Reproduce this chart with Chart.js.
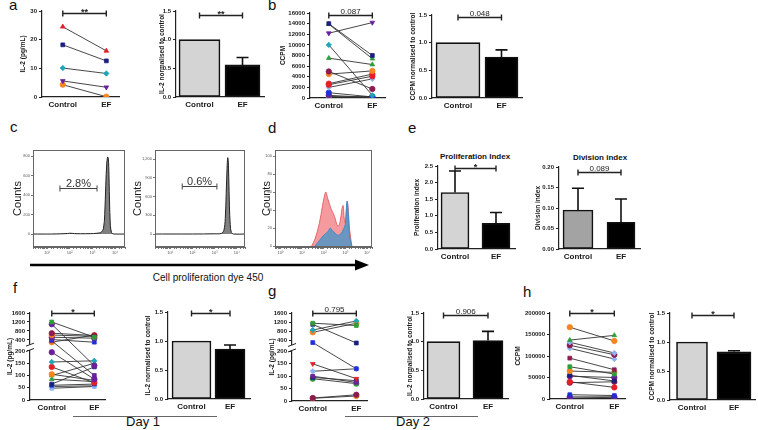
<!DOCTYPE html>
<html>
<head>
<meta charset="utf-8">
<title>IL-2 / CCPM control vs EF</title>
<script src="https://cdn.jsdelivr.net/npm/chart.js@4.4.1/dist/chart.umd.min.js"></script>
<style>
  html, body { margin: 0; padding: 0; background: #fff; }
  body { position: relative; width: 758px; height: 430px; overflow: hidden; font-family: "Liberation Sans", Arial, sans-serif; color: #111; }
  canvas { position: absolute; }
  .t { position: absolute; white-space: nowrap; line-height: 1; }
  .lbl { font-size: 15px; }
  .c { transform: translateX(-50%); }
</style>
</head>
<body>
<svg style="position:absolute;left:0;top:0" width="758" height="430">
  <line x1="30" y1="265" x2="358" y2="265" stroke="#000" stroke-width="2.6"/>
  <polygon points="369,265 355,259.5 355,270.5" fill="#000"/>
  <line x1="73" y1="416.5" x2="217" y2="416.5" stroke="#666" stroke-width="1"/>
  <line x1="345" y1="416.5" x2="478" y2="416.5" stroke="#666" stroke-width="1"/>
</svg>

<div class="t lbl" style="left:9px;top:-3px">a</div>
<div class="t lbl" style="left:268px;top:-3px">b</div>
<div class="t lbl" style="left:10px;top:119px">c</div>
<div class="t lbl" style="left:268px;top:120px">d</div>
<div class="t lbl" style="left:408px;top:120px">e</div>
<div class="t lbl" style="left:13px;top:280px">f</div>
<div class="t lbl" style="left:268px;top:283px">g</div>
<div class="t lbl" style="left:523px;top:284px">h</div>
<div class="t c" style="left:475px;top:153px;font-size:8px;font-weight:bold">Proliferation Index</div>
<div class="t c" style="left:600px;top:154px;font-size:8px;font-weight:bold">Division index</div>
<div class="t c" style="left:208px;top:273px;font-size:10px">Cell proliferation dye 450</div>
<div class="t c" style="left:143px;top:415px;font-size:13px">Day 1</div>
<div class="t c" style="left:413px;top:415px;font-size:13px">Day 2</div>

<script>
// ---- datos ----
const cats = ['Control', 'EF'];

// a: IL-2 (pg/mL) por donante
const aCtrl = [24.5, 18.2, 10.1, 5.6, 4.3];
const aEF   = [16.1, 12.6, 8.2, 3.4, 0.1];
const aTicks = [0, 10, 20, 30];
const aNorm = [1.0, 0.56];
const aNormErr = [1.0, 0.69];

// b: CCPM
const bCtrl = [14000, 13900, 12200, 10000, 7500, 5000, 4500, 2700, 2500, 2000, 1000, 500, 300, 150];
const bEF   = [8000, 7400, 14200, 500, 6300, 1700, 5100, 4500, 4100, 3600, 200, 100, 50, 300];
const bTicks = [0, 2000, 4000, 6000, 8000, 10000, 12000, 14000, 16000];
const bNorm = [1.0, 0.74];
const bNormErr = [1.0, 0.87];

const normTicks = [0, 0.5, 1.0, 1.5];

// c, d: histogramas (intensidad, cuentas)
const c1X = [2.4, 6, 16, 40, 80, 100, 130, 160, 300, 800, 1600, 2500, 3100, 3500, 3900, 4300, 4700, 5000, 5300, 5700, 6200, 7000, 8000, 10000, 27000];
const c1Y = [0, 0, 0, 2, 5, 8, 7, 4, 3, 4, 8, 20, 60, 200, 500, 720, 790, 780, 680, 350, 90, 15, 3, 0, 0];
const c1Ticks = [0, 200, 400, 600, 800];
const c2X = [2.1, 10, 100, 1000, 2000, 2600, 3000, 3300, 3600, 3850, 4050, 4300, 4600, 5000, 5600, 7000, 23000];
const c2Y = [0, 0, 0, 3, 10, 60, 250, 650, 1050, 1220, 1180, 900, 450, 150, 25, 0, 0];
const c2Ticks = [0, 300, 600, 900, 1200];
const dRedX  = [28, 40, 63, 89, 112, 126, 158, 224, 316, 447, 562, 708, 794, 891, 1000, 1120, 1260, 1580, 2000];
const dRedY  = [0, 8, 25, 45, 57, 60, 52, 41, 33, 22, 26, 42, 45, 30, 26, 40, 49, 18, 0];
const dBlueX = [40, 63, 100, 158, 200, 251, 316, 447, 631, 794, 1000, 1120, 1200, 1260, 1410, 1580, 2000];
const dBlueY = [0, 6, 12, 16, 20, 17, 15, 12, 14, 18, 24, 42, 50, 47, 30, 10, 0];
const dTicks = [0, 20, 40, 60, 80, 100];

// e: indices
const eProl = [1.7, 0.77];
const eProlErr = [2.35, 1.1];
const eProlTicks = [0, 0.5, 1.0, 1.5, 2.0, 2.5];
const eDiv = [0.095, 0.065];
const eDivErr = [0.148, 0.122];
const eDivTicks = [0, 0.05, 0.10, 0.15, 0.20];

// f: IL-2 dia 1
const fCtrl = [1200, 1100, 700, 620, 520, 420, 360, 300, 195, 155, 135, 105, 100, 85, 65, 60, 55, 48];
const fEF   = [520, 140, 600, 560, 480, 300, 100, 620, 85, 160, 70, 80, 150, 75, 135, 65, 58, 55];
const fNorm = [1.0, 0.86];
const fNormErr = [1.0, 0.93];

// g: IL-2 dia 2
const gCtrl = [1150, 1100, 850, 750, 300, 150, 120, 100, 95, 90, 12, 11];
const gEF   = [1050, 280, 1250, 1150, 130, 90, 130, 75, 82, 70, 25, 20];
const gNorm = [1.0, 1.02];
const gNormErr = [1.0, 1.18];

const brokenTicks = [0, 50, 100, 150, 200, 400, 800, 1200, 1600];

// h: CCPM
const hCtrl = [167000, 137000, 132000, 125000, 118000, 95000, 75000, 65000, 55000, 53000, 40000, 38000, 10000, 5000, 2000];
const hEF   = [135000, 148000, 107000, 103000, 93000, 68000, 58000, 62000, 42000, 50000, 27000, 40000, 8000, 5000, 4000];
const hTicks = [0, 50000, 100000, 150000, 200000];
const hNorm = [1.0, 0.83];
const hNormErr = [1.0, 0.85];

// ---- estilos de marcadores (color, forma, rotacion) ----
const MK = {
  rt: ['#e41f26', 'triangle', 0],  ri: ['#e41f26', 'triangle', 180], rc: ['#e41f26', 'circle', 0],
  nv: ['#1a1f80', 'rect', 0],      tl: ['#1fa5b8', 'rectRot', 0],    pu: ['#6b1f9c', 'triangle', 180],
  pc: ['#6b1f9c', 'circle', 0],    ps: ['#6b1f9c', 'rect', 0],       or: ['#f7841f', 'circle', 0],
  gr: ['#2e9e3a', 'triangle', 0],  gs: ['#2e9e3a', 'rect', 0],       gc: ['#2e9e3a', 'circle', 0],
  mr: ['#8c1c4f', 'circle', 0],    ms: ['#8c1c4f', 'rect', 0],       lb: ['#8fb2f0', 'rectRot', 0],
  ls: ['#8fb2f0', 'rect', 0],      bc: ['#2030d8', 'circle', 0],     bs: ['#2030d8', 'rect', 0]
};
const aMarks = ['rt', 'nv', 'tl', 'pu', 'or'];
const bMarks = ['nv', 'gr', 'pu', 'tl', 'gr', 'mr', 'or', 'rc', 'rc', 'lb', 'bc', 'pc', 'ls', 'gc'];
const fMarks = ['gs', 'pc', 'mr', 'or', 'pc', 'bs', 'ps', 'or', 'pc', 'tl', 'rc', 'or', 'gr', 'gr', 'nv', 'bs', 'lb', 'ls'];
const gMarks = ['gs', 'nv', 'tl', 'or', 'bs', 'ri', 'lb', 'ps', 'nv', 'gc', 'mr', 'or'];
const hMarks = ['or', 'gr', 'lb', 'mr', 'lb', 'ms', 'gs', 'or', 'nv', 'pc', 'rc', 'mr', 'bs', 'pc', 'bc'];

const GREY = '#d4d4d4', DARK = '#a3a3a3', BLACK = '#000';

Chart.defaults.font.family = '"Liberation Sans", Arial, sans-serif';
Chart.defaults.color = '#1a1a1a';
Chart.defaults.animation = false;
Chart.defaults.plugins.legend.display = false;
Chart.defaults.plugins.tooltip.enabled = false;

// eje Y partido (0-200 abajo, 400-1600 arriba)
const brk = v => v <= 200 ? v : 245 + (v - 400) * 110 / 1200;

// barras de error, corchetes de significancia, corte de eje, marcos, compuertas
const extras = {
  id: 'extras',
  afterDatasetsDraw(chart, args, o) {
    const ctx = chart.ctx, xs = chart.scales.x, ys = chart.scales.y, a = chart.chartArea;
    ctx.save();
    if (o.frame) {
      ctx.strokeStyle = '#666'; ctx.lineWidth = 1;
      ctx.strokeRect(a.left + 0.5, a.top + 0.5, a.right - a.left - 1, a.bottom - a.top - 1);
    }
    if (o.err) {
      ctx.strokeStyle = '#111'; ctx.lineWidth = 1.6;
      o.err.forEach((hi, i) => {
        if (hi <= o.vals[i]) return;
        const x = xs.getPixelForValue(i), y0 = ys.getPixelForValue(o.vals[i]), y1 = ys.getPixelForValue(hi);
        ctx.beginPath();
        ctx.moveTo(x, y0); ctx.lineTo(x, y1);
        ctx.moveTo(x - 6, y1); ctx.lineTo(x + 6, y1);
        ctx.stroke();
      });
    }
    if (o.sig) {
      const y = Math.round(ys.getPixelForValue(o.sig[0])) + 0.5;
      const x0 = xs.getPixelForValue(0), x1 = xs.getPixelForValue(1);
      ctx.strokeStyle = '#222'; ctx.lineWidth = 1.4;
      ctx.beginPath();
      ctx.moveTo(x0, y); ctx.lineTo(x1, y);
      ctx.moveTo(x0, y - 3); ctx.lineTo(x0, y + 3);
      ctx.moveTo(x1, y - 3); ctx.lineTo(x1, y + 3);
      ctx.stroke();
      const star = o.sig[1].indexOf('*') >= 0;
      ctx.fillStyle = '#222'; ctx.textAlign = 'center'; ctx.textBaseline = 'alphabetic';
      ctx.font = (star ? 'bold 9px' : '8px') + ' "Liberation Sans", Arial, sans-serif';
      ctx.fillText(o.sig[1], (x0 + x1) / 2, star ? y + 1 : y - 2);
    }
    if (o.brk) {
      const x = a.left, yl = ys.getPixelForValue(o.brk[0]), yh = ys.getPixelForValue(o.brk[1]);
      ctx.fillStyle = '#fff'; ctx.fillRect(x - 2, yh, 4, yl - yh);
      ctx.strokeStyle = '#222'; ctx.lineWidth = 1;
      ctx.beginPath();
      ctx.moveTo(x - 4, yl + 1.5); ctx.lineTo(x + 4, yl - 1.5);
      ctx.moveTo(x - 4, yh + 1.5); ctx.lineTo(x + 4, yh - 1.5);
      ctx.stroke();
    }
    if (o.gate) {
      const g = o.gate, y = Math.round(ys.getPixelForValue(g[2])) + 0.5;
      const x0 = xs.getPixelForValue(g[0]), x1 = xs.getPixelForValue(g[1]);
      ctx.strokeStyle = '#444'; ctx.lineWidth = 1;
      ctx.beginPath();
      ctx.moveTo(x0, y); ctx.lineTo(x1, y);
      ctx.moveTo(x0, y - 3); ctx.lineTo(x0, y + 3);
      ctx.moveTo(x1, y - 3); ctx.lineTo(x1, y + 3);
      ctx.stroke();
      ctx.fillStyle = '#333'; ctx.textAlign = 'center'; ctx.textBaseline = 'alphabetic';
      ctx.font = '11px "Liberation Sans", Arial, sans-serif';
      ctx.fillText(g[3], (x0 + x1) / 2, y - 2);
    }
    ctx.restore();
  }
};
Chart.register(extras);

// coloca un grafico para que el area de datos caiga en (L,T)-(R,B)
function mk(b, cfg) {
  const padT = 14, padR = 4, H = b.H || 16;
  const c = document.createElement('canvas');
  c.width = b.R - b.L + b.W + padR;
  c.height = b.B - b.T + padT + H;
  c.style.left = (b.L - b.W) + 'px';
  c.style.top = (b.T - padT) + 'px';
  document.body.appendChild(c);
  cfg.options.responsive = false;
  cfg.options.devicePixelRatio = 1;
  cfg.options.layout = { padding: { top: padT, right: padR, left: 0, bottom: 0 } };
  cfg.options.scales.y.afterFit = s => { s.width = b.W; };
  cfg.options.scales.x.afterFit = s => { s.height = H; };
  return new Chart(c, cfg);
}

function px2range(b, c, e) {
  const u = e - c;
  return [-(c - b.L) / u, 1 + (b.R - e) / u];
}

function yScale(max, ticks, dec, title, tf) {
  tf = tf || (v => v);
  return {
    type: 'linear', min: 0, max: max,
    afterBuildTicks: s => { s.ticks = ticks.map(v => ({ value: tf(v) })); },
    ticks: { autoSkip: false, padding: 2, font: { size: 6, weight: 'bold' }, callback: (v, i) => ticks[i].toFixed(dec) },
    grid: { drawOnChartArea: false, drawTicks: true, tickLength: 3, color: '#222', lineWidth: 1 },
    border: { color: '#222', width: 1.2 },
    title: { display: true, text: title, font: { size: 6.5, weight: 'bold' }, padding: 0 }
  };
}

function xScale(r) {
  return {
    type: 'linear', min: r[0], max: r[1], offset: false,
    afterBuildTicks: s => { s.ticks = [{ value: 0 }, { value: 1 }]; },
    ticks: { autoSkip: false, maxRotation: 0, padding: 3, font: { size: 8, weight: 'bold' }, callback: (v, i) => cats[i] },
    grid: { display: false, drawTicks: false, offset: false },
    border: { color: '#222', width: 1.2 }
  };
}

function pairChart(b, c, e, ctrl, ef, marks, y, sig, tf) {
  tf = tf || (v => v);
  const ds = ctrl.map((v, i) => {
    const m = MK[marks[i]];
    return {
      data: [{ x: 0, y: tf(v) }, { x: 1, y: tf(ef[i]) }],
      showLine: true, borderColor: '#333', borderWidth: 0.9,
      pointStyle: m[1], rotation: m[2], pointRadius: 2.7,
      pointBackgroundColor: m[0], pointBorderColor: m[0], pointBorderWidth: 0.8
    };
  });
  return mk(b, {
    type: 'scatter',
    data: { datasets: ds },
    options: { scales: { x: xScale(px2range(b, c, e)), y: y }, plugins: { extras: { sig: sig, brk: b.brk } } }
  });
}

function barChart(b, c, e, vals, errs, fills, widths, y, sig) {
  const ds = vals.map((v, i) => ({
    data: [{ x: i, y: v }], backgroundColor: fills[i], borderColor: '#111', borderWidth: 1.6,
    borderSkipped: false, barThickness: widths[i], grouped: false
  }));
  return mk(b, {
    type: 'bar',
    data: { datasets: ds },
    options: { scales: { x: xScale(px2range(b, c, e)), y: y }, plugins: { extras: { vals: vals, err: errs, sig: sig } } }
  });
}

const sup = ['\u2070', '\u00b9', '\u00b2', '\u00b3', '\u2074'];
function histChart(b, xr, ymin, ymax, ticks, series, gate) {
  // Chart.js pinta el primer dataset encima
  const ds = series.map(s => ({
    data: s.x.map((v, i) => ({ x: v, y: s.y[i] })),
    fill: 'origin', backgroundColor: s.fill, borderColor: s.line, borderWidth: 1,
    pointRadius: 0, tension: 0.35
  }));
  return mk(b, {
    type: 'line',
    data: { datasets: ds },
    options: {
      scales: {
        x: {
          type: 'logarithmic', min: xr[0], max: xr[1],
          ticks: {
            autoSkip: false, maxRotation: 0, padding: 1, font: { size: 4 }, color: '#555',
            callback: v => { const l = Math.log10(v); return Math.abs(l - Math.round(l)) < 1e-6 && l >= 0 ? '10' + sup[Math.round(l)] : ''; }
          },
          grid: { drawOnChartArea: false, tickLength: 2, color: '#777' },
          border: { color: '#666' }
        },
        y: {
          type: 'linear', min: ymin, max: ymax,
          afterBuildTicks: s => { s.ticks = ticks.map(v => ({ value: v })); },
          ticks: { autoSkip: false, padding: 1, font: { size: 4 }, color: '#555' },
          grid: { drawOnChartArea: false, tickLength: 2, color: '#777' },
          border: { color: '#666' },
          title: { display: true, text: 'Counts', font: { size: 11 }, padding: 0 }
        }
      },
      plugins: { extras: { frame: true, gate: gate } }
    }
  });
}

// ---- panel a ----
pairChart({ L: 42, T: 11, R: 120, B: 97, W: 23 }, 63, 107, aCtrl, aEF, aMarks,
  yScale(30, aTicks, 0, 'IL-2 (pg/mL)'), [29.4, '**']);
barChart({ L: 176, T: 11, R: 264, B: 97, W: 18 }, 199.5, 242.5, aNorm, aNormErr, [GREY, BLACK], [41, 35],
  yScale(1.5, normTicks, 1, 'IL-2 normalised to control'), [1.43, '**']);

// ---- panel b ----
pairChart({ L: 310, T: 13, R: 386, B: 98, W: 31 }, 329, 373, bCtrl, bEF, bMarks,
  yScale(16000, bTicks, 0, 'CCPM'), [15600, '0.087']);
barChart({ L: 432, T: 15, R: 522, B: 98, W: 23 }, 458, 501.5, bNorm, bNormErr, [GREY, BLACK], [44, 33],
  yScale(1.5, normTicks, 1, 'CCPM normalised to control'), [1.47, '0.048']);

// ---- panel c, d ----
histChart({ L: 33, T: 150, R: 125, B: 247, W: 22, H: 12 }, [2.4, 27500], -133, 862, c1Ticks,
  [{ x: c1X, y: c1Y, fill: '#808080', line: '#222' }], [37, 1600, 472, '2.8%']);
histChart({ L: 155, T: 150, R: 245, B: 247, W: 24, H: 12 }, [2.1, 23000], -208, 1344, c2Ticks,
  [{ x: c2X, y: c2Y, fill: '#808080', line: '#222' }], [35, 1260, 770, '0.6%']);
histChart({ L: 275, T: 150, R: 372, B: 247, W: 15, H: 12 }, [0.57, 17000], -1, 106.7, dTicks,
  [{ x: dBlueX, y: dBlueY, fill: 'rgba(84,150,198,0.85)', line: '#3a8cc7' },
   { x: dRedX, y: dRedY, fill: 'rgba(242,120,126,0.75)', line: 'rgba(228,92,98,0.9)' }], null);

// ---- panel e ----
barChart({ L: 438, T: 166, R: 515, B: 249, W: 25 }, 455, 496, eProl, eProlErr, [GREY, BLACK], [28, 28],
  yScale(2.5, eProlTicks, 1, 'Proliferation index'), [2.45, '*']);
barChart({ L: 559, T: 167, R: 640, B: 249, W: 25 }, 578, 621, eDiv, eDivErr, [DARK, BLACK], [30, 28],
  yScale(0.2, eDivTicks, 2, 'Division index'), [0.188, '0.089']);

// ---- panel f ----
pairChart({ L: 30, T: 313, R: 106, B: 400, W: 24, brk: [204, 226] }, 52, 95, fCtrl, fEF, fMarks,
  yScale(355, brokenTicks, 0, 'IL-2 (pg/mL)', brk), [355, '*'], brk);
barChart({ L: 168, T: 312, R: 250, B: 399, W: 24 }, 191.5, 230, fNorm, fNormErr, [GREY, BLACK], [39, 30],
  yScale(1.5, normTicks, 1, 'IL-2 normalised to control'), [1.48, '*']);

// ---- panel g ----
pairChart({ L: 292, T: 313, R: 368, B: 401, W: 24, brk: [204, 226] }, 313, 357, gCtrl, gEF, gMarks,
  yScale(355, brokenTicks, 0, 'IL-2 (pg/mL)', brk), [355, '0.795'], brk);
barChart({ L: 424, T: 313, R: 508, B: 399, W: 18 }, 443.5, 488, gNorm, gNormErr, [GREY, BLACK], [33, 30],
  yScale(1.5, normTicks, 1, 'IL-2 normalised to control'), [1.47, '0.906']);

// ---- panel h ----
pairChart({ L: 550, T: 313, R: 626, B: 399, W: 36 }, 570, 615, hCtrl, hEF, hMarks,
  yScale(200000, hTicks, 0, 'CCPM'), [200000, '*']);
barChart({ L: 670, T: 313, R: 755, B: 400, W: 22 }, 692, 734, hNorm, hNormErr, [GREY, BLACK], [31, 34],
  yScale(1.5, normTicks, 1, 'CCPM normalised to control'), [1.47, '*']);
</script>
</body>
</html>
